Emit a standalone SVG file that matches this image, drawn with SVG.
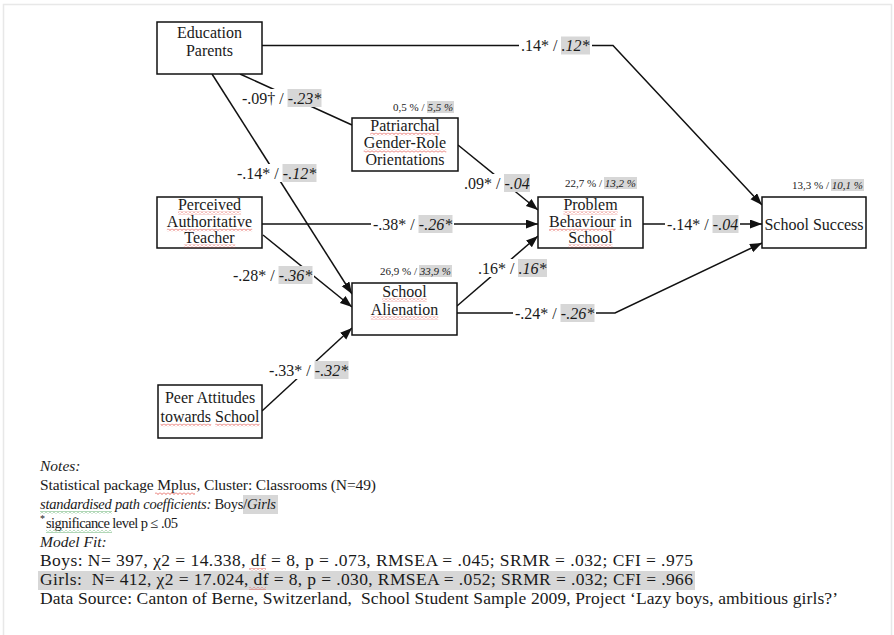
<svg xmlns="http://www.w3.org/2000/svg" width="894" height="635" viewBox="0 0 894 635">
<style>
.t{font-family:"Liberation Serif","Times New Roman",serif;font-size:16px;fill:#1a1a1a}
.n{font-family:"Liberation Serif","Times New Roman",serif;font-size:15.5px;fill:#1a1a1a;white-space:pre}
.b{font-size:17.5px}
.p{font-family:"Liberation Serif","Times New Roman",serif;font-size:11px;fill:#222}
.i{font-style:italic}
.box{fill:#fff;stroke:#111;stroke-width:1.5}
.conn{fill:none;stroke:#111;stroke-width:1.5}
.wb{fill:#fff}
.sh{fill:#d7d7d7}
.sq{fill:url(#wr)}
.sg{fill:url(#wg)}
</style>
<defs>
<marker id="ah" markerUnits="userSpaceOnUse" markerWidth="13" markerHeight="10" refX="12" refY="4.5" orient="auto">
<path d="M0,0 L12,4.5 L0,9 z" fill="#111"/>
</marker>
<pattern id="wr" patternUnits="userSpaceOnUse" width="4" height="3">
<path d="M0,0.5 L2,2.5 L4,0.5" fill="none" stroke="#e0443c" stroke-width="0.8"/>
</pattern>
<pattern id="wg" patternUnits="userSpaceOnUse" width="4" height="3">
<path d="M0,0.5 L2,2.5 L4,0.5" fill="none" stroke="#3c9a4a" stroke-width="0.8"/>
</pattern>
</defs>
<rect width="894" height="635" fill="#fff"/>
<path d="M3.5,635 V4.5 H891.5 V635" fill="none" stroke="#e8e8e8" stroke-width="1.5"/>

<g id="connectors">
<path class="conn" d="M262,45.5 H613 L762,205" marker-end="url(#ah)"/>
<path class="conn" d="M240,74 L352,125"/>
<path class="conn" d="M212,74 L352,294" marker-end="url(#ah)"/>
<path class="conn" d="M263,235 L352,307" marker-end="url(#ah)"/>
<path class="conn" d="M262,224 H538" marker-end="url(#ah)"/>
<path class="conn" d="M458,145 L538,210" marker-end="url(#ah)"/>
<path class="conn" d="M457,306 L538,236" marker-end="url(#ah)"/>
<path class="conn" d="M457,313 H615 L762,243" marker-end="url(#ah)"/>
<path class="conn" d="M643,224 H762" marker-end="url(#ah)"/>
<path class="conn" d="M262,411 L352,328" marker-end="url(#ah)"/>
</g>

<g id="labels">
<g><rect class="wb" x="519" y="36.5" width="73" height="18"/><rect class="sh" x="561" y="36.5" width="29" height="18"/><text class="t" x="521" y="51">.14* / </text><text class="t i" x="561.5" y="51">.12*</text></g>
<g><rect class="wb" x="240" y="89" width="83" height="18"/><rect class="sh" x="287.5" y="89" width="34" height="18"/><text class="t" x="242" y="103.5">-.09† / </text><text class="t i" x="287.8" y="103.5">-.23*</text></g>
<g><rect class="wb" x="235" y="164" width="83" height="18"/><rect class="sh" x="282.5" y="164" width="34" height="18"/><text class="t" x="237" y="178.5">-.14* / </text><text class="t i" x="282.8" y="178.5">-.12*</text></g>
<g><rect class="wb" x="371" y="215" width="83" height="18"/><rect class="sh" x="418.5" y="215" width="34" height="18"/><text class="t" x="373" y="229.5">-.38* / </text><text class="t i" x="418.8" y="229.5">-.26*</text></g>
<g><rect class="wb" x="462" y="174" width="70" height="18"/><rect class="sh" x="504" y="174" width="26" height="18"/><text class="t" x="464" y="188.5">.09* / </text><text class="t i" x="504.5" y="188.5">-.04</text></g>
<g><rect class="wb" x="231" y="266" width="83" height="18"/><rect class="sh" x="278.5" y="266" width="34" height="18"/><text class="t" x="233" y="280.5">-.28* / </text><text class="t i" x="278.8" y="280.5">-.36*</text></g>
<g><rect class="wb" x="476" y="259" width="73" height="18"/><rect class="sh" x="518" y="259" width="29" height="18"/><text class="t" x="478" y="273.5">.16* / </text><text class="t i" x="518.5" y="273.5">.16*</text></g>
<g><rect class="wb" x="513" y="304" width="83" height="18"/><rect class="sh" x="560.5" y="304" width="34" height="18"/><text class="t" x="515" y="318.5">-.24* / </text><text class="t i" x="560.8" y="318.5">-.26*</text></g>
<g><rect class="wb" x="665" y="215" width="75" height="18"/><rect class="sh" x="712.5" y="215" width="26" height="18"/><text class="t" x="667" y="229.5">-.14* / </text><text class="t i" x="712.8" y="229.5">-.04</text></g>
<g><rect class="wb" x="267" y="361" width="83" height="18"/><rect class="sh" x="314.5" y="361" width="34" height="18"/><text class="t" x="269" y="375.5">-.33* / </text><text class="t i" x="314.8" y="375.5">-.32*</text></g>
</g>

<g id="r2">
<rect class="sh" x="427" y="101" width="27" height="12"/><text class="p" x="393" y="111">0,5 % / </text><text class="p i" x="427.5" y="111">5,5 %</text>
<rect class="sh" x="604" y="177" width="33" height="12"/><text class="p" x="565" y="187">22,7 % / </text><text class="p i" x="604.7" y="187">13,2 %</text>
<rect class="sh" x="419" y="265" width="33" height="12"/><text class="p" x="380" y="275">26,9 % / </text><text class="p i" x="419.7" y="275">33,9 %</text>
<rect class="sh" x="831" y="179" width="33" height="12"/><text class="p" x="792" y="189">13,3 % / </text><text class="p i" x="831.7" y="189">10,1 %</text>
</g>

<g id="education-parents">
<rect class="box" x="157" y="22" width="105" height="52"/>
<text class="t" x="209.5" y="37.5" text-anchor="middle">Education</text>
<text class="t" x="209.5" y="55.5" text-anchor="middle">Parents</text>
</g>

<g id="patriarchal">
<rect class="box" x="352" y="118" width="106" height="53"/>
<text class="t" x="405" y="131" text-anchor="middle">Patriarchal</text>
<text class="t" x="405" y="148" text-anchor="middle">Gender-Role</text>
<text class="t" x="405" y="165" text-anchor="middle">Orientations</text>
<rect class="sq" x="370.3" y="132.5" width="69.3" height="3"/>
<rect class="sq" x="363.7" y="149.5" width="82.6" height="3"/>
</g>

<g id="perceived-teacher">
<rect class="box" x="157" y="197" width="105" height="51"/>
<text class="t" x="209.5" y="210" text-anchor="middle">Perceived</text>
<text class="t" x="209.5" y="227" text-anchor="middle">Authoritative</text>
<text class="t" x="209.5" y="243" text-anchor="middle">Teacher</text>
<rect class="sq" x="178" y="211.5" width="63.1" height="3"/>
<rect class="sq" x="166.9" y="228.5" width="85.3" height="3"/>
<rect class="sq" x="183.8" y="244.5" width="51.5" height="3"/>
</g>

<g id="problem-behaviour">
<rect class="box" x="538" y="197" width="105" height="51"/>
<text class="t" x="590.5" y="210" text-anchor="middle">Problem</text>
<text class="t" x="590.5" y="227" text-anchor="middle">Behaviour in</text>
<text class="t" x="590.5" y="243" text-anchor="middle">School</text>
<rect class="sq" x="563.4" y="211.5" width="54.2" height="3"/>
<rect class="sq" x="549" y="228.5" width="66.7" height="3"/>
<rect class="sq" x="568.3" y="244.5" width="44.4" height="3"/>
</g>

<g id="school-success">
<rect class="box" x="762" y="197" width="104" height="51"/>
<text class="t" x="814" y="230" text-anchor="middle">School Success</text>
</g>

<g id="school-alienation">
<rect class="box" x="352" y="283" width="105" height="52"/>
<text class="t" x="404.5" y="297" text-anchor="middle">School</text>
<text class="t" x="404.5" y="315" text-anchor="middle">Alienation</text>
<rect class="sq" x="382.3" y="298.5" width="44.4" height="3"/>
<rect class="sq" x="370.7" y="316.5" width="67.6" height="3"/>
</g>

<g id="peer-attitudes">
<rect class="box" x="158" y="385" width="104" height="53"/>
<text class="t" x="210" y="403" text-anchor="middle">Peer Attitudes</text>
<text class="t" x="210" y="422" text-anchor="middle">towards School</text>
<rect class="sq" x="160.5" y="423.5" width="50.7" height="3"/>
<rect class="sq" x="215.2" y="423.5" width="44.4" height="3"/>
</g>

<g id="notes">
<text class="n i" x="40" y="471">Notes:</text>
<text class="n" x="40" y="490" textLength="336" lengthAdjust="spacing">Statistical package Mplus, Cluster: Classrooms (N=49)</text>
<rect class="sq" x="155" y="492" width="40" height="3"/>
<rect class="sh" x="243" y="495" width="35" height="19"/>
<text class="n" x="40" y="509" style="font-size:14.5px" textLength="236" lengthAdjust="spacing"><tspan class="i">standardised path coefficients:</tspan> Boys/<tspan class="i">Girls</tspan></text>
<rect class="sg" x="40" y="511" width="72" height="3"/>
<text class="n" x="40" y="522" style="font-size:10px">*</text>
<text class="n" x="46" y="528" style="font-size:14.5px" textLength="132" lengthAdjust="spacing">significance level p ≤ .05</text>
<rect class="sg" x="46" y="530" width="66" height="3"/>
<text class="n i" x="40" y="547">Model Fit:</text>
<text class="n b" x="40" y="566" textLength="653" lengthAdjust="spacing">Boys: N= 397, χ2 = 14.338, df = 8, p = .073, RMSEA = .045; SRMR = .032; CFI = .975</text>
<rect class="sq" x="249" y="568" width="17" height="3"/>
<rect class="sh" x="38" y="571" width="657" height="19"/>
<text class="n b" x="40" y="585" textLength="653" lengthAdjust="spacing">Girls:  N= 412, χ2 = 17.024, df = 8, p = .030, RMSEA = .052; SRMR = .032; CFI = .966</text>
<rect class="sq" x="249" y="587" width="17" height="3"/>
<text class="n b" x="40" y="604" textLength="798" lengthAdjust="spacing">Data Source: Canton of Berne, Switzerland,  School Student Sample 2009, Project ‘Lazy boys, ambitious girls?’</text>
</g>
</svg>
